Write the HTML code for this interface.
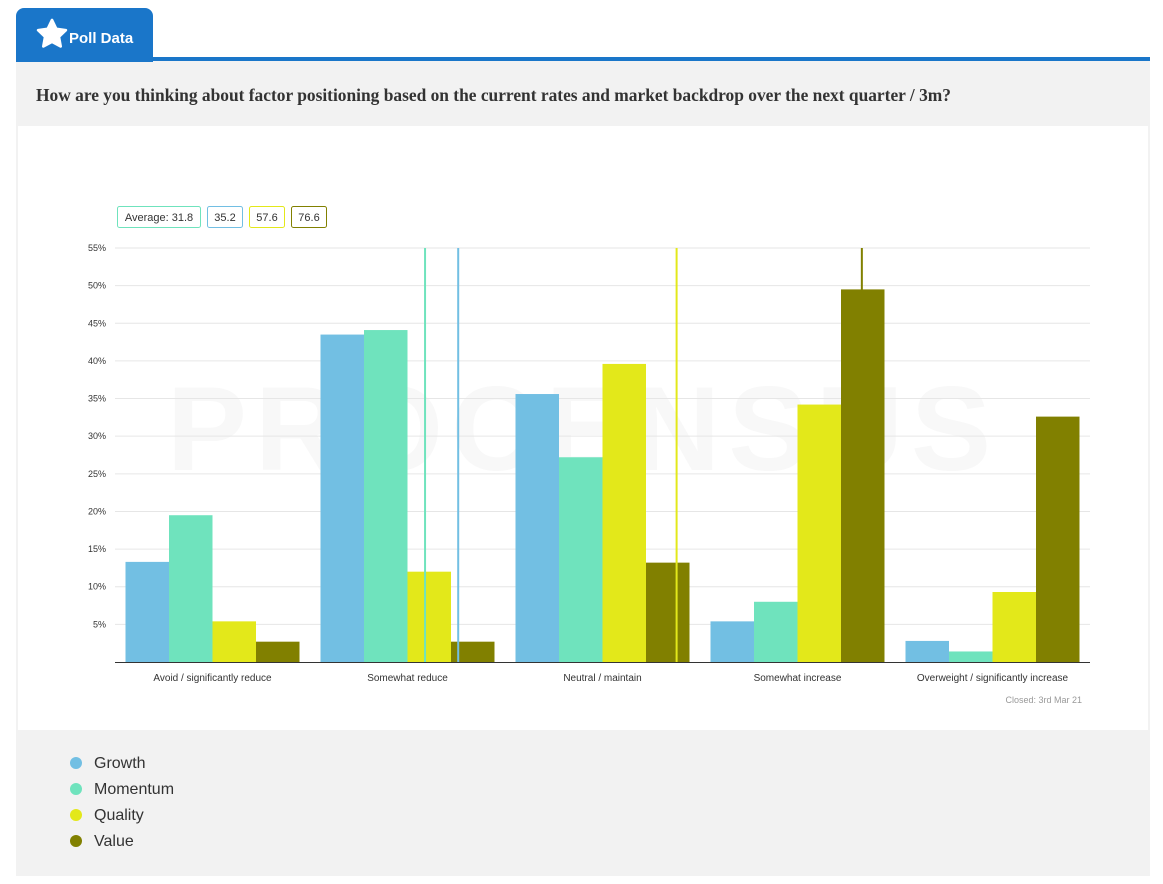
<!DOCTYPE html>
<html><head><meta charset="utf-8"><style>
body{margin:0;width:1163px;height:884px;background:#fff;font-family:"Liberation Sans",sans-serif;position:relative;overflow:hidden}
.tab{position:absolute;left:16px;top:8px;width:137px;height:54px;background:#1a76c9;border-radius:8px 8px 0 0;color:#fff;font-weight:bold;font-size:15px}
.bar{position:absolute;left:16px;top:57px;width:1134px;height:4px;background:#1a76c9}
.panel{position:absolute;left:16px;top:61px;width:1134px;height:815px;background:#f2f2f2}
.q{position:absolute;left:36px;top:85px;font-family:"Liberation Serif",serif;font-weight:bold;font-size:17.4px;color:#333}
.box{position:absolute;left:18px;top:126px;width:1130px;height:604px;background:#fff}
.leg{position:absolute;left:70px;font-size:16px;color:#333}
.leg i{display:inline-block;width:12px;height:12px;border-radius:50%;margin-right:12px;vertical-align:-1px}
</style></head><body>
<div class="panel"></div>
<div class="bar"></div>
<div class="tab">
<svg style="position:absolute;left:19px;top:10px" width="34" height="32" viewBox="0 0 24 24"><path d="M12 1.5l3.2 6.6 7.2 1-5.2 5 1.3 7.2L12 17.9l-6.5 3.4 1.3-7.2-5.2-5 7.2-1z" fill="#fff" stroke="#fff" stroke-linejoin="round" stroke-width="2"/></svg>
<span style="position:absolute;left:53px;top:22px">Poll Data</span></div>
<div class="q">How are you thinking about factor positioning based on the current rates and market backdrop over the next quarter / 3m?</div>
<div class="box"></div>
<svg id="c" width="1163" height="884" style="position:absolute;left:0;top:0"></svg>
<div class="leg" style="top:755px"><i style="background:#72bfe3"></i>Growth</div>
<div class="leg" style="top:781px"><i style="background:#6fe3bd"></i>Momentum</div>
<div class="leg" style="top:807px"><i style="background:#e3e81a"></i>Quality</div>
<div class="leg" style="top:833px"><i style="background:#818000"></i>Value</div>
<script>
const categories=["Avoid / significantly reduce","Somewhat reduce","Neutral / maintain","Somewhat increase","Overweight / significantly increase"];
const seriesNames=["Growth","Momentum","Quality","Value"];
const growth=[13.3,43.5,35.6,5.4,2.8];
const momentum=[19.5,44.1,27.2,8.0,1.4];
const quality=[5.4,12.0,39.6,34.2,9.3];
const value=[2.7,2.7,13.2,49.5,32.6];
const averages=[31.8,35.2,57.6,76.6];
const averageLabels=["Average: 31.8","35.2","57.6","76.6"];
const yTicks=[5,10,15,20,25,30,35,40,45,50,55];
const colors=["#72bfe3","#6fe3bd","#e3e81a","#818000"];
const borders=["#6fe3bd","#72bfe3","#e3e81a","#818000"];
const avgColors=["#6fe3bd","#72bfe3","#e3e81a","#818000"];
const X0=115,X1=1090,Y0=662,Y55=248;
const y=v=>Y0-(v/55)*(Y0-Y55);
const bw=(X1-X0)/categories.length;
const ax=v=>X0+v/100*(X1-X0);
const svg=document.getElementById('c');const NS="http://www.w3.org/2000/svg";
function mk(t,a,p){const e=document.createElementNS(NS,t);for(const k in a)e.setAttribute(k,a[k]);(p||svg).appendChild(e);return e;}
let wm=mk('text',{x:583,y:470,'text-anchor':'middle','font-size':120,'font-weight':'bold',fill:'#f8f8f8','letter-spacing':8});wm.textContent="PROCENSUS";


yTicks.forEach(t=>{let l=mk('line',{x1:X0,x2:X1,y1:y(t),y2:y(t),stroke:'#e6e6e6'});


let tx=mk('text',{x:106,y:y(t)+3,'text-anchor':'end','font-size':9,fill:'#333'});tx.textContent=t+'%';

});
const series=[growth,momentum,quality,value];
series.forEach((s,si)=>s.forEach((v,ci)=>{const cx=X0+bw*(ci+0.5);
let r=mk('rect',{x:cx-87+si*43.5,y:y(v),width:43.5,height:Y0-y(v),fill:colors[si]});

}));
averages.forEach((a,i)=>{let l=mk('line',{x1:ax(a),x2:ax(a),y1:Y55,y2:Y0,stroke:avgColors[i],'stroke-width':2});

});
let axl=mk('line',{x1:X0,x2:X1,y1:Y0+0.5,y2:Y0+0.5,stroke:'#333'});


categories.forEach((c,i)=>{let t=mk('text',{x:X0+bw*(i+0.5),y:681,'text-anchor':'middle','font-size':10,fill:'#333'});t.textContent=c;

});
let bx=117;const bwid=[83,35,35,35];
averageLabels.forEach((s,i)=>{let r=mk('rect',{x:bx+0.5,y:206.5,width:bwid[i],height:21,rx:2,fill:'#fff',stroke:borders[i]});


let t=mk('text',{x:bx+bwid[i]/2+0.5,y:221,'text-anchor':'middle','font-size':11,fill:'#333'});t.textContent=s;


bx+=bwid[i]+7;});
let cl=mk('text',{x:1082,y:703,'text-anchor':'end','font-size':9,fill:'#999'});cl.textContent="Closed: 3rd Mar 21";


</script>
</body></html>
